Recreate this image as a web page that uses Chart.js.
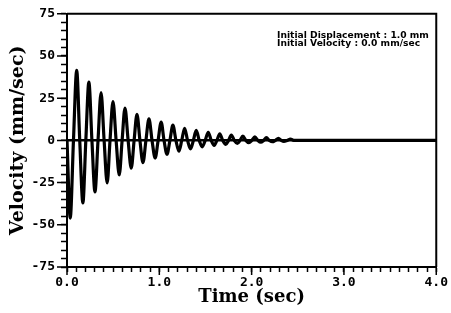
<!DOCTYPE html>
<html>
<head>
<meta charset="utf-8">
<script src="https://cdn.jsdelivr.net/npm/chart.js@4/dist/chart.umd.min.js"></script>
<style>
html,body{margin:0;padding:0;background:#fff;}
#wrap{width:451px;height:313px;position:relative;}
</style>
</head>
<body>
<div id="wrap"><canvas id="c" width="451" height="313"></canvas></div>
<script>
// Time (sec) of readings: extrema and zero crossings
const timeSec = [0, 0.035, 0.070, 0.105, 0.138, 0.172, 0.204, 0.237, 0.270, 0.303, 0.336, 0.369, 0.402, 0.435, 0.466, 0.498, 0.532, 0.566, 0.597, 0.628, 0.662, 0.696, 0.727, 0.758, 0.790, 0.823, 0.855, 0.888, 0.921, 0.955, 0.987, 1.020, 1.051, 1.083, 1.115, 1.147, 1.180, 1.212, 1.243, 1.274, 1.306, 1.338, 1.369, 1.400, 1.432, 1.465, 1.497, 1.530, 1.562, 1.594, 1.624, 1.655, 1.687, 1.720, 1.750, 1.780, 1.812, 1.845, 1.875, 1.905, 1.937, 1.970, 2.002, 2.035, 2.067, 2.100, 2.130, 2.160, 2.192, 2.225, 2.257, 2.290, 2.320, 2.350, 2.385, 2.420, 2.455, 4.0];
// Velocity (mm/sec)
const velocity = [0, -46, 0, 41.5, 0, -37, 0, 34.5, 0, -30.5, 0, 28.3, 0, -25.2, 0, 23, 0, -20.5, 0, 19.2, 0, -16.5, 0, 15.5, 0, -13.2, 0, 12.8, 0, -10.5, 0, 10.8, 0, -8.2, 0, 9.0, 0, -6.4, 0, 7.2, 0, -5.0, 0, 5.9, 0, -3.8, 0, 4.8, 0, -3.0, 0, 3.9, 0, -2.3, 0, 3.2, 0, -1.8, 0, 2.6, 0, -1.4, 0, 2.1, 0, -1.1, 0, 1.6, 0, -0.8, 0, 1.2, 0, -0.6, 0, 0.8, 0, 0];
const xTickLabels = ["0.0", "1.0", "2.0", "3.0", "4.0"];
const yTickLabels = ["-75", "-50", "-25", "0", "25", "50", "75"];
const noteLines = ["Initial Displacement : 1.0 mm", "Initial Velocity : 0.0 mm/sec"];

const points = timeSec.map((t, i) => ({x: t, y: velocity[i]}));

const framePlugin = {
  id: 'frame',
  afterDraw(chart) {
    const {ctx, chartArea: a, scales} = chart;
    ctx.save();
    ctx.strokeStyle = '#000';
    ctx.lineWidth = 2;
    ctx.beginPath();
    ctx.moveTo(a.left, a.top);
    ctx.lineTo(a.right, a.top);
    ctx.lineTo(a.right, a.bottom);
    ctx.stroke();
    // longer major ticks
    ctx.lineWidth = 1.5;
    ctx.beginPath();
    scales.y.ticks.forEach((t) => {
      if (t.value % 25 === 0) {
        const py = scales.y.getPixelForValue(t.value);
        ctx.moveTo(a.left - 10, py);
        ctx.lineTo(a.left, py);
      }
    });
    scales.x.ticks.forEach((t) => {
      if (Math.abs(t.value - Math.round(t.value)) < 1e-6) {
        const px = scales.x.getPixelForValue(t.value);
        ctx.moveTo(px, a.bottom);
        ctx.lineTo(px, a.bottom + 8);
      }
    });
    ctx.stroke();
    // note text
    ctx.fillStyle = '#000';
    ctx.font = 'bold 9px "DejaVu Sans"';
    ctx.textBaseline = 'middle';
    ctx.textAlign = 'left';
    const x0 = scales.x.getPixelForValue(2.275);
    const x1 = scales.x.getPixelForValue(3.92);
    const w0 = ctx.measureText(noteLines[0]).width;
    const sx = (x1 - x0) / w0;
    [61.8, 57.6].forEach((v, i) => {
      ctx.save();
      ctx.translate(x0, scales.y.getPixelForValue(v));
      ctx.scale(sx, 1);
      ctx.fillText(noteLines[i], 0, 0);
      ctx.restore();
    });
    ctx.restore();
  }
};

new Chart(document.getElementById('c'), {
  type: 'line',
  data: {
    datasets: [{
      data: points,
      borderColor: '#000',
      borderWidth: 3.2,
      pointRadius: 0,
      fill: false,
      cubicInterpolationMode: 'monotone'
    }]
  },
  options: {
    responsive: false,
    animation: false,
    devicePixelRatio: 1,
    layout: {padding: {top: 11, right: 13, left: 0, bottom: 0}},
    plugins: {legend: {display: false}, tooltip: {enabled: false}},
    scales: {
      x: {
        type: 'linear',
        min: 0, max: 4,
        afterFit(s) { s.height = 46; },
        border: {display: true, color: '#000', width: 2},
        grid: {display: true, drawOnChartArea: false, drawTicks: true, tickLength: 5, tickColor: '#000', tickWidth: 1.5},
        ticks: {
          stepSize: 0.1, autoSkip: false, maxRotation: 0, padding: 3,
          color: '#000',
          font: {family: '"DejaVu Sans Mono"', weight: 'bold', size: 13},
          callback: (v) => {
            const r = Math.round(v);
            return Math.abs(v - r) < 1e-6 ? xTickLabels[r] : '';
          }
        },
        title: {display: true, text: 'Time (sec)', color: '#000', padding: {top: 0, bottom: 5},
          font: {family: '"DejaVu Serif"', weight: 'bold', size: 18}}
      },
      y: {
        type: 'linear',
        min: -75, max: 75,
        afterFit(s) { s.width = 67; },
        border: {display: true, color: '#000', width: 2},
        grid: {
          display: true, drawOnChartArea: true, drawTicks: true, tickLength: 6,
          color: (c) => (c.tick && c.tick.value === 0) ? '#000' : 'rgba(0,0,0,0)',
          lineWidth: (c) => (c.tick && c.tick.value === 0) ? 2.5 : 1,
          tickColor: '#000', tickWidth: 1.5
        },
        ticks: {
          stepSize: 5, autoSkip: false, padding: 6,
          color: '#000',
          font: {family: '"DejaVu Sans Mono"', weight: 'bold', size: 13},
          callback: (v) => (v % 25 === 0) ? yTickLabels[(v + 75) / 25] : ''
        },
        title: {display: true, text: 'Velocity (mm/sec)', color: '#000', padding: {top: 7, bottom: 0},
          font: {family: '"DejaVu Serif"', weight: 'bold', size: 19}}
      }
    }
  },
  plugins: [framePlugin]
});
</script>
</body>
</html>
